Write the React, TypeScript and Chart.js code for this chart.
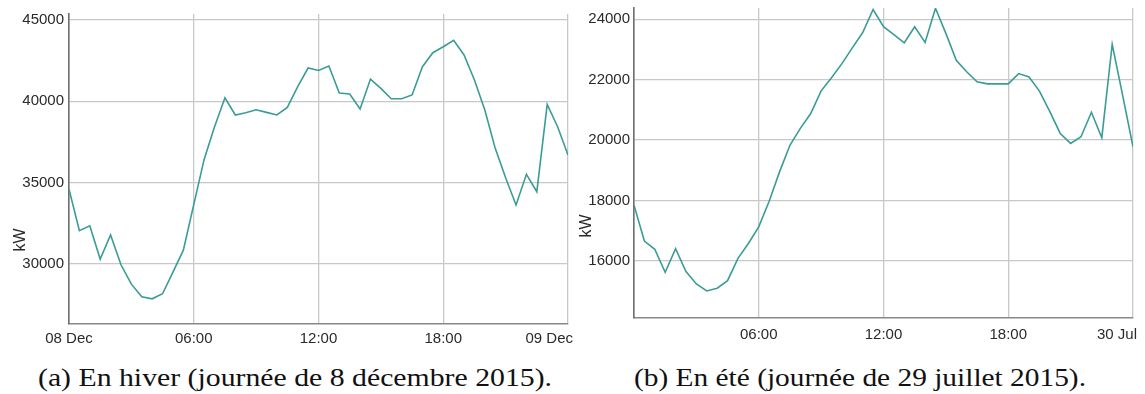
import React, { useEffect, useLayoutEffect, useRef } from 'react';
import { Chart, registerables } from 'chart.js';

Chart.register(...registerables);

// Time of day in hours (half-hour samples)
const TIME_HOURS = [
  0, 0.5, 1, 1.5, 2, 2.5, 3, 3.5, 4, 4.5, 5, 5.5, 6, 6.5, 7, 7.5, 8, 8.5, 9, 9.5,
  10, 10.5, 11, 11.5, 12, 12.5, 13, 13.5, 14, 14.5, 15, 15.5, 16, 16.5, 17, 17.5,
  18, 18.5, 19, 19.5, 20, 20.5, 21, 21.5, 22, 22.5, 23, 23.5, 24,
];

// (a) 8 December 2015 load, kW
const WINTER_KW = [
  34600, 32050, 32350, 30300, 31780, 29950, 28760, 27980, 27860, 28170, 29500, 30850,
  33650, 36430, 38440, 40220, 39160, 39300, 39480, 39320, 39160, 39630, 40900, 42050,
  41900, 42170, 40510, 40450, 39530, 41370, 40800, 40160, 40160, 40390, 42130, 42990,
  43360, 43750, 42850, 41310, 39470, 37110, 35300, 33630, 35510, 34440, 39810, 38440,
  36700,
];

// (b) 29 July 2015 load, kW
const SUMMER_KW = [
  17850, 16660, 16390, 15630, 16410, 15650, 15240, 15010, 15100, 15350, 16090, 16580,
  17130, 17980, 18950, 19830, 20390, 20880, 21630, 22060, 22530, 23050, 23560, 24320,
  23750, 23490, 23220, 23750, 23230, 24360, 23530, 22640, 22260, 21930, 21860, 21860,
  21860, 22200, 22090, 21620, 20940, 20220, 19890, 20110, 20920, 20080, 23170, 21490,
  19780,
];

const X_TICK_HOURS = [0, 6, 12, 18, 24];
const WINTER_X_LABELS = ['08 Dec', '06:00', '12:00', '18:00', '09 Dec'];
const SUMMER_X_LABELS = ['', '06:00', '12:00', '18:00', '30 Jul'];
const WINTER_Y_TICKS = [30000, 35000, 40000, 45000];
const SUMMER_Y_TICKS = [16000, 18000, 20000, 22000, 24000];

const Y_TITLE = 'kW';
const CAPTION_A = '(a) En hiver (journée de 8 décembre 2015).';
const CAPTION_B = '(b) En été (journée de 29 juillet 2015).';

const LINE_COLOR = '#3a9c97';
const TEXT_COLOR = '#2a2a2a';
const GRID_COLOR = '#c8c8c8';
const FONT_FAMILY = '"Liberation Sans", Arial, sans-serif';
const FONT_SIZE = 15;

type Cfg = {
  data: number[];
  xLabels: string[];
  yTicks: number[];
  W: number;
  H: number;
  left: number;
  top: number;
  right: number;
  bottom: number;
  yMin: number;
  yMax: number;
  yPad: number;
  labelBaseline: number;
  lastShift: number;
  kwX: number;
  kwY: number;
};

function makeTextPlugin(cfg: Cfg) {
  return {
    id: 'customText',
    afterDraw(chart: any) {
      const ctx = chart.ctx;
      const xs = chart.scales.x;
      ctx.save();
      ctx.font = `${FONT_SIZE}px ${FONT_FAMILY}`;
      ctx.fillStyle = TEXT_COLOR;
      ctx.textBaseline = 'alphabetic';
      X_TICK_HOURS.forEach((v, i) => {
        const t = cfg.xLabels[i];
        if (!t) return;
        const px = xs.getPixelForValue(v);
        if (i === X_TICK_HOURS.length - 1) {
          ctx.textAlign = 'right';
          ctx.fillText(t, px + cfg.lastShift, cfg.labelBaseline);
        } else {
          ctx.textAlign = 'center';
          ctx.fillText(t, px, cfg.labelBaseline);
        }
      });
      ctx.translate(cfg.kwX, cfg.kwY);
      ctx.rotate(-Math.PI / 2);
      ctx.textAlign = 'center';
      ctx.font = `16px ${FONT_FAMILY}`;
      ctx.fillText(Y_TITLE, 0, 0);
      ctx.restore();
    },
  };
}

function LineChart({ cfg, style }: { cfg: Cfg; style: React.CSSProperties }) {
  const ref = useRef<HTMLCanvasElement | null>(null);
  useEffect(() => {
    if (!ref.current) return;
    const points = TIME_HOURS.map((h, i) => ({ x: h, y: cfg.data[i] }));
    const chart = new Chart(ref.current, {
      type: 'line',
      data: {
        datasets: [
          {
            data: points,
            borderColor: LINE_COLOR,
            borderWidth: 1.6,
            pointRadius: 0,
            tension: 0,
            fill: false,
          },
        ],
      },
      options: {
        responsive: false,
        animation: false,
        devicePixelRatio: 1,
        layout: {
          padding: { top: cfg.top, right: cfg.W - cfg.right, left: 0, bottom: 0 },
        },
        plugins: {
          legend: { display: false },
          tooltip: { enabled: false },
          title: { display: false },
        },
        scales: {
          x: {
            type: 'linear',
            min: 0,
            max: 24,
            ticks: { display: false },
            afterBuildTicks: (s: any) => {
              s.ticks = X_TICK_HOURS.map((v) => ({ value: v }));
            },
            grid: { color: GRID_COLOR, lineWidth: 1.3, drawTicks: false },
            border: { display: true, color: '#888888', width: 1.6 },
            afterFit: (s: any) => {
              s.height = cfg.H - cfg.bottom;
              s.paddingLeft = 0;
              s.paddingRight = 0;
            },
          },
          y: {
            type: 'linear',
            min: cfg.yMin,
            max: cfg.yMax,
            afterBuildTicks: (s: any) => {
              s.ticks = cfg.yTicks.map((v) => ({ value: v }));
            },
            ticks: {
              color: TEXT_COLOR,
              padding: cfg.yPad,
              font: { family: FONT_FAMILY, size: FONT_SIZE },
              callback: (v: any) => String(v),
            },
            grid: { color: GRID_COLOR, lineWidth: 1.3, drawTicks: false },
            border: { display: true, color: '#707070', width: 1.6 },
            afterFit: (s: any) => {
              s.width = cfg.left;
              s.paddingTop = 0;
              s.paddingBottom = 0;
            },
          },
        },
      },
      plugins: [makeTextPlugin(cfg)],
    } as any);
    return () => chart.destroy();
  }, [cfg]);
  return (
    <canvas
      ref={ref}
      width={cfg.W}
      height={cfg.H}
      style={{ position: 'absolute', width: cfg.W, height: cfg.H, ...style }}
    />
  );
}

function Caption({ text, left, width }: { text: string; left: number; width: number }) {
  const ref = useRef<HTMLSpanElement | null>(null);
  useLayoutEffect(() => {
    const el = ref.current;
    if (!el) return;
    const w = el.offsetWidth;
    if (w > 0) el.style.transform = `scaleX(${width / w})`;
  }, [text, width]);
  return (
    <span
      ref={ref}
      style={{
        position: 'absolute',
        left,
        top: 363,
        fontFamily: '"Liberation Serif", serif',
        fontSize: 26,
        lineHeight: '30px',
        whiteSpace: 'nowrap',
        color: '#111',
        transformOrigin: 'left top',
        display: 'inline-block',
      }}
    >
      {text}
    </span>
  );
}

const CFG_A: Cfg = {
  data: WINTER_KW,
  xLabels: WINTER_X_LABELS,
  yTicks: WINTER_Y_TICKS,
  W: 580,
  H: 350,
  left: 69,
  top: 14,
  right: 568,
  bottom: 324,
  yMin: 26310,
  yMax: 45370,
  yPad: 5,
  labelBaseline: 342.5,
  lastShift: 5,
  kwX: 25,
  kwY: 240,
};

const CFG_B: Cfg = {
  data: SUMMER_KW,
  xLabels: SUMMER_X_LABELS,
  yTicks: SUMMER_Y_TICKS,
  W: 570,
  H: 350,
  left: 59,
  top: 8,
  right: 558,
  bottom: 318,
  yMin: 14116,
  yMax: 24370,
  yPad: 4,
  labelBaseline: 339,
  lastShift: 4,
  kwX: 16,
  kwY: 226,
};

export default function App() {
  return (
    <div
      style={{
        position: 'fixed',
        left: 0,
        top: 0,
        width: 1145,
        height: 394,
        background: '#fff',
        overflow: 'hidden',
      }}
    >
      <LineChart cfg={CFG_A} style={{ left: 0, top: 0 }} />
      <LineChart cfg={CFG_B} style={{ left: 575, top: 0 }} />
      <Caption text={CAPTION_A} left={38} width={514} />
      <Caption text={CAPTION_B} left={634} width={452} />
    </div>
  );
}
